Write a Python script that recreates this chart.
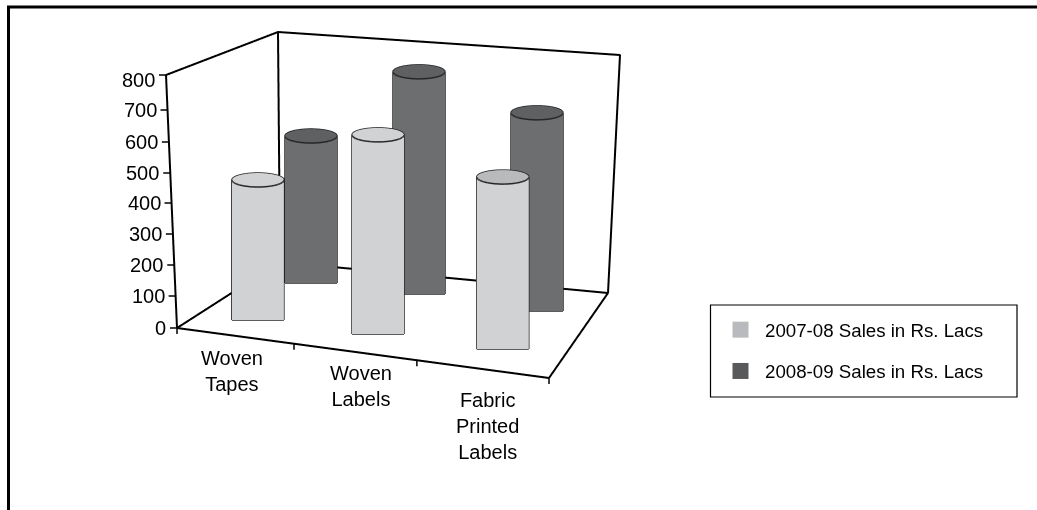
import numpy as np, plotly.graph_objects as go

W, H = 1037, 510
categories = ["Woven<br>Tapes", "Woven<br>Labels", "Fabric<br>Printed<br>Labels"]
series_names = ["2007-08 Sales in Rs. Lacs", "2008-09 Sales in Rs. Lacs"]
sales_2007_08 = [443, 630, 544]
sales_2008_09 = [465, 703, 627]
z_ticks = [0, 100, 200, 300, 400, 500, 600, 700, 800]

# placement of the cylinders on the floor of the chart (category unit, depth unit)
x_front = [0.509, 1.461, 2.453]
y_front = [0.44, 0.491, 0.533]
x_back = [0.601, 1.445, 2.405]
y_back = [1.468, 1.55, 1.525]

# page heights of the value ticks on the slanted axis, and page shifts of their labels
tick_py = [328, 296, 265, 234, 203, 173, 142, 110, 75]
tick_label_shift = [0, 0, 0, 0, 0, 0, 0, 0, 5]
# fractions of the front edge where the category ticks lie
cat_ticks = [0, 0.3145, 0.645, 1]

# pixels per data unit of the orthographic view
ORIGIN = np.array([177.0, 328.0])
EX = np.array([124.0, 16.7])
EY = np.array([40.5, -37.5])
VZ = 0.316
XR, YR, ZR = [-2, 5], [-3, 5], [-100, 900]

sin_e = np.sqrt((EX[1] / EX[0]) * (-EY[1] / EY[0]))
e = np.arcsin(sin_e)
a = np.arctan((EX[1] / EX[0]) / sin_e)
d = 2.0
k = H / d
dirv = np.array([np.sin(a) * np.cos(e), -np.cos(a) * np.cos(e), np.sin(e)])
s = np.array([np.cos(a), np.sin(a), 0.0])
u = np.array([-np.sin(a) * np.sin(e), np.cos(a) * np.sin(e), np.cos(e)])
px_x = EX[0] / np.cos(a) / k
px_y = EY[0] / np.sin(a) / k
px_z = VZ / np.cos(e) / k
aspect = dict(x=px_x * (XR[1] - XR[0]), y=px_y * (YR[1] - YR[0]), z=px_z * (ZR[1] - ZR[0]))
mid = np.array([(XR[0] + XR[1]) / 2, (YR[0] + YR[1]) / 2, (ZR[0] + ZR[1]) / 2])
mid_px = ORIGIN + mid[0] * EX + mid[1] * EY + np.array([0, -VZ * mid[2]])
center = s * (W / 2 - mid_px[0]) / k - u * (H / 2 - mid_px[1]) / k
eye = center + d * dirv

M = np.array([[EX[0], EY[0]], [EX[1], EY[1]]])
Minv = np.linalg.inv(M)


def at(px, py, z=0):
    """data position on height z that is seen at a page position (frame only)"""
    v = Minv @ (np.array([px, py + VZ * z]) - ORIGIN)
    return v[0], v[1], z


fig = go.Figure()
RX, RY = 26.0, 7.0
t_full = np.linspace(0, 2 * np.pi, 73)
t_half = np.linspace(0, np.pi, 37)
light = dict(ambient=1, diffuse=0, specular=0, roughness=1, fresnel=0)
uni = lambda c: [[0, c], [1, c]]
side_cols = ["#d1d2d4", "#6d6e70"]
cap_cols = [["#d1d2d4", "#d1d2d4", "#b9babc"], ["#5f6062", "#5f6062", "#5f6062"]]
OUT = "#262626"


def ring(x0, y0, t):
    off = Minv @ np.vstack([RX * np.cos(t), RY * np.sin(t)])
    return x0 + off[0], y0 + off[1]


def segs(fig, xs, ys, zs, color, width):
    fig.add_scatter3d(x=xs, y=ys, z=zs, mode="lines", line=dict(color=color, width=width), showlegend=False, hoverinfo="skip")


for si, (vals, xp, yp) in enumerate([(sales_2007_08, x_front, y_front), (sales_2008_09, x_back, y_back)]):
    for i, v in enumerate(vals):
        X, Y = ring(xp[i], yp[i], t_half)
        lift = RY * np.sin(t_half) / VZ
        fig.add_surface(x=np.array([X, X]), y=np.array([Y, Y]), z=np.array([lift, 0 * lift + v]),
                        colorscale=uni(side_cols[si]), showscale=False, lighting=light, hoverinfo="skip")
        Xf, Yf = ring(xp[i], yp[i], t_full)
        fig.add_surface(x=np.array([Xf, 0 * Xf + xp[i]]), y=np.array([Yf, 0 * Yf + yp[i]]), z=np.full((2, len(Xf)), float(v)),
                        colorscale=uni(cap_cols[si][i]), showscale=False, lighting=light, hoverinfo="skip")
        segs(fig, Xf, Yf, 0 * Xf + v, OUT, 3)
        xl, yl = X[-1], Y[-1]
        xr, yr = X[0], Y[0]
        segs(fig, [xr, xr, None, xl, xl, None, xl, xr], [yr, yr, None, yl, yl, None, yl, yr], [v, 0, None, v, 0, None, 0, 0], OUT, 3)

# frame
corners = [at(177, 328), at(549, 378), at(608, 293), at(280, 262), at(177, 328),
           at(166, 75, 800), at(278, 32, 800), at(620, 55, 800), at(608, 293)]
corners += [(None, None, None), at(280, 262), at(278, 32, 800)]
fx, fy, fz = zip(*corners)
segs(fig, fx, fy, fz, "black", 4)

# axis ticks
tx, ty, tz = [], [], []
ann = []
for zv, py, shift in zip(z_ticks, tick_py, tick_label_shift):
    f = (328 - py) / (328 - 75)
    px = 177 + (166 - 177) * f
    p0 = at(px, py, zv)
    p1 = at(px - 7, py, zv)
    tx += [p0[0], p1[0], None]
    ty += [p0[1], p1[1], None]
    tz += [p0[2], p1[2], None]
    ann.append(dict(x=p1[0], y=p1[1], z=p1[2], text=str(zv), showarrow=False, xanchor="right", xshift=-2, yshift=-shift,
                    font=dict(family="Liberation Sans", size=20, color="black")))
for f in cat_ticks:
    px, py = 177 + (549 - 177) * f, 328 + (378 - 328) * f
    p0 = at(px, py)
    p1 = at(px, py + 6)
    tx += [p0[0], p1[0], None]
    ty += [p0[1], p1[1], None]
    tz += [0, 0, None]
segs(fig, tx, ty, tz, "black", 3)

label_at = [(232, 371), (361, 386), (487, 426)]
for text, (lx, ly) in zip(categories, label_at):
    p = at(lx, ly)
    ann.append(dict(x=p[0], y=p[1], z=0, text=text, showarrow=False, xanchor="center", yanchor="middle",
                    font=dict(family="Liberation Sans", size=20, color="black")))

for n, col in zip(series_names, ["#b9babd", "#58595b"]):
    fig.add_scatter3d(x=[None], y=[None], z=[None], mode="markers", name=n, legendgroup=n,
                      marker=dict(symbol="square", size=17, color=col))

off = dict(showbackground=False, showgrid=False, zeroline=False, showline=False, showticklabels=False,
           ticks="", title="", showspikes=False)
fig.update_layout(
    width=W, height=H, margin=dict(l=0, r=0, t=0, b=0), paper_bgcolor="white",
    scene=dict(domain=dict(x=[0, 1], y=[0, 1]),
               xaxis=dict(off, range=XR), yaxis=dict(off, range=YR), zaxis=dict(off, range=ZR),
               aspectmode="manual", aspectratio=aspect,
               camera=dict(eye=dict(x=eye[0], y=eye[1], z=eye[2]), center=dict(x=center[0], y=center[1], z=center[2]),
                           up=dict(x=0, y=0, z=1), projection=dict(type="orthographic")),
               annotations=ann),
    legend=dict(x=716 / W, y=1 - 311 / H, xanchor="left", yanchor="top", borderwidth=0,
                bgcolor="rgba(0,0,0,0)", font=dict(family="Liberation Sans", size=18.7, color="black"),
                tracegroupgap=14, itemwidth=39, entrywidth=250, entrywidthmode="pixels"),
    shapes=[dict(type="line", xref="paper", yref="paper", x0=8.5 / W, x1=8.5 / W, y0=0, y1=1 - 7 / H, line=dict(color="black", width=3)),
            dict(type="line", xref="paper", yref="paper", x0=7 / W, x1=1, y0=1 - 7 / H, y1=1 - 7 / H, line=dict(color="black", width=3)),
            dict(type="rect", xref="paper", yref="paper", x0=710.5 / W, x1=1017 / W, y0=1 - 305 / H, y1=1 - 397 / H, line=dict(color="black", width=1.2))])
fig.write_html("out.html", config=dict(displayModeBar=False), post_script="document.body.style.margin='0';document.body.style.overflow='hidden';")
